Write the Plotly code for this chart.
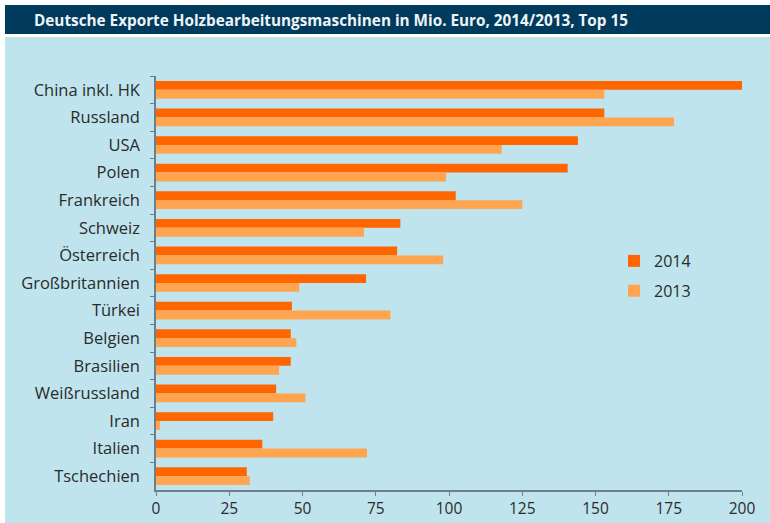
import plotly.graph_objects as go

countries = ["China inkl. HK", "Russland", "USA", "Polen", "Frankreich", "Schweiz",
             "Österreich", "Großbritannien", "Türkei", "Belgien", "Brasilien",
             "Weißrussland", "Iran", "Italien", "Tschechien"]
values_2014 = [200, 153, 144, 140.5, 102.3, 83.4, 82.3, 71.7, 46.4, 46, 46, 41, 40, 36.3, 31]
values_2013 = [153, 176.8, 118, 99, 125, 71, 98, 48.9, 80, 47.9, 42, 51, 1.4, 72, 32]
x_ticks = [0, 25, 50, 75, 100, 125, 150, 175, 200]
title_text = "Deutsche Exporte Holzbearbeitungsmaschinen in Mio. Euro, 2014/2013, Top 15"

W, H = 770, 523
L, R, T, B = 156, 28, 76, 33
pw, ph = W - L - R, H - T - B

def px(x):
    return (x - L) / pw

def py(y):
    return (H - B - y) / ph

FONT = "Open Sans"
fig = go.Figure()
fig.add_trace(go.Bar(y=countries, x=values_2014, orientation="h", name="2014",
                     legendgroup="a",
                     marker=dict(color="#ff6600", line=dict(width=0))))
fig.add_trace(go.Bar(y=countries, x=values_2013, orientation="h", name="2013",
                     legendgroup="b",
                     marker=dict(color="#ffa54f", line=dict(width=0))))

fig.update_layout(
    width=W, height=H,
    margin=dict(l=L, r=R, t=T, b=B, pad=0, autoexpand=False),
    paper_bgcolor="white",
    plot_bgcolor="rgba(0,0,0,0)",
    barmode="group",
    bargap=0.36,
    bargroupgap=0,
    font=dict(family=FONT, size=16, color="#2b2b2b"),
    showlegend=True,
    legend=dict(x=px(614), y=py(244), xanchor="left", yanchor="top",
                bgcolor="rgba(0,0,0,0)", font=dict(size=16, color="#2b2b2b"),
                itemsizing="constant", traceorder="grouped", tracegroupgap=6),
    xaxis=dict(range=[0, 200], tickvals=x_ticks, showgrid=False, zeroline=False,
               showline=True, linecolor="#6d7f88", linewidth=1.5,
               ticks="outside", ticklen=4, tickcolor="#6d7f88", tickwidth=1,
               ticklabelstandoff=0, automargin=False,
               tickfont=dict(size=15.5, color="#2b2b2b"), fixedrange=True),
    yaxis=dict(autorange="reversed", type="category", showgrid=False,
               showline=True, linecolor="#6d7f88", linewidth=1.5,
               ticks="outside", ticklen=4, tickcolor="#6d7f88", tickson="boundaries",
               ticklabelstandoff=11, automargin=False,
               tickfont=dict(size=16.5, color="#2b2b2b")),
    shapes=[
        dict(type="rect", xref="paper", yref="paper", layer="below",
             x0=px(5), x1=px(W), y0=py(H), y1=py(37),
             fillcolor="#bfe4ed", line=dict(width=0)),
        dict(type="rect", xref="paper", yref="paper", layer="below",
             x0=px(5), x1=px(W), y0=py(34), y1=py(5),
             fillcolor="#003a5c", line=dict(width=0)),
    ],
    annotations=[
        dict(text="<b>" + title_text + "</b>", xref="paper", yref="paper",
             x=px(32), y=py(20), xanchor="left", yanchor="middle", showarrow=False,
             font=dict(family=FONT, size=15.3, color="#eef3f6")),
    ],
)

fig.write_html("out.html")
